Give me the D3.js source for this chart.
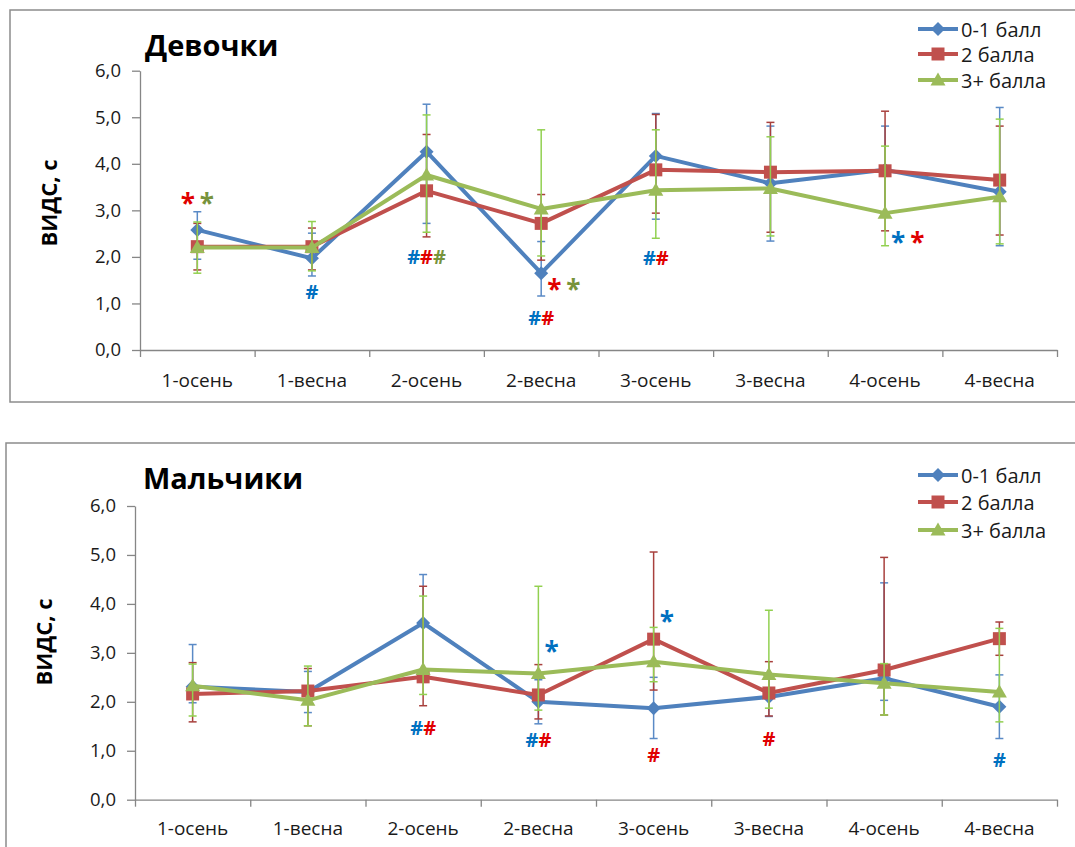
<!DOCTYPE html>
<html>
<head>
<meta charset="utf-8">
<script src="https://cdn.jsdelivr.net/npm/d3@7"></script>
<style>
  body { margin: 0; background: #fff; }
  svg { font-family: "Open Sans", sans-serif; }
</style>
</head>
<body>
<svg id="chart" width="1075" height="847"></svg>
<script>
const categories = ['1-осень', '1-весна', '2-осень', '2-весна', '3-осень', '3-весна', '4-осень', '4-весна'];
const seriesNames = ['0-1 балл', '2 балла', '3+ балла'];
const yTicks = [0, 1, 2, 3, 4, 5, 6];

// Девочки: mean, upper and lower end of the error bar
const girls01   = [2.58, 1.97, 4.26, 1.65, 4.17, 3.58, 3.87, 3.40];
const girls01Hi = [2.97, 2.51, 5.28, 2.33, 5.08, 4.81, 4.81, 5.21];
const girls01Lo = [1.95, 1.59, 2.72, 1.16, 2.81, 2.34, 2.93, 2.24];
const girls2    = [2.22, 2.22, 3.42, 2.72, 3.87, 3.82, 3.85, 3.65];
const girls2Hi  = [2.72, 2.62, 4.63, 3.34, 5.06, 4.89, 5.13, 4.81];
const girls2Lo  = [1.72, 1.72, 2.43, 1.93, 2.94, 2.53, 2.56, 2.47];
const girls3    = [2.20, 2.20, 3.76, 3.03, 3.43, 3.47, 2.94, 3.29];
const girls3Hi  = [2.75, 2.76, 5.05, 4.73, 4.73, 4.58, 4.38, 4.96];
const girls3Lo  = [1.65, 1.70, 2.53, 2.02, 2.40, 2.45, 2.24, 2.28];

// Мальчики
const boys01   = [2.31, 2.20, 3.61, 2.00, 1.87, 2.10, 2.48, 1.90];
const boys01Hi = [3.17, 2.62, 4.60, 2.45, 2.50, 2.50, 4.43, 2.55];
const boys01Lo = [1.98, 1.78, 2.60, 1.55, 1.25, 1.70, 2.03, 1.25];
const boys2    = [2.16, 2.22, 2.51, 2.14, 3.28, 2.18, 2.65, 3.29];
const boys2Hi  = [2.80, 2.68, 4.36, 2.76, 5.06, 2.82, 4.95, 3.63];
const boys2Lo  = [1.59, 1.51, 1.92, 1.65, 2.24, 1.71, 1.73, 2.95];
const boys3    = [2.33, 2.03, 2.66, 2.58, 2.82, 2.56, 2.38, 2.20];
const boys3Hi  = [2.77, 2.73, 4.16, 4.36, 3.52, 3.87, 2.78, 3.50];
const boys3Lo  = [1.71, 1.51, 2.15, 1.83, 2.41, 1.87, 1.73, 1.59];

// significance marks: category, level, glyphs with colour key, placed centred or right of the point
const girlsMarks = [
  { cat: '1-осень', v: 3.28, side: 'c', glyphs: [['*', 'r'], ['*', 'g']] },
  { cat: '1-весна', v: 1.25, side: 'c', glyphs: [['#', 'b']] },
  { cat: '2-осень', v: 2.00, side: 'c', glyphs: [['#', 'b'], ['#', 'r'], ['#', 'g']] },
  { cat: '2-весна', v: 1.43, side: 'r', glyphs: [['*', 'r'], ['*', 'g']] },
  { cat: '2-весна', v: 0.70, side: 'c', glyphs: [['#', 'b'], ['#', 'r']] },
  { cat: '3-осень', v: 1.97, side: 'c', glyphs: [['#', 'b'], ['#', 'r']] },
  { cat: '4-осень', v: 2.43, side: 'r', glyphs: [['*', 'b'], ['*', 'r']] }
];
const boysMarks = [
  { cat: '2-осень', v: 1.46, side: 'c', glyphs: [['#', 'b'], ['#', 'r']] },
  { cat: '2-весна', v: 1.22, side: 'c', glyphs: [['#', 'b'], ['#', 'r']] },
  { cat: '2-весна', v: 3.16, side: 'r', glyphs: [['*', 'b']] },
  { cat: '3-осень', v: 0.91, side: 'c', glyphs: [['#', 'r']] },
  { cat: '3-осень', v: 3.77, side: 'r', glyphs: [['*', 'b']] },
  { cat: '3-весна', v: 1.25, side: 'c', glyphs: [['#', 'r']] },
  { cat: '4-весна', v: 0.81, side: 'c', glyphs: [['#', 'b']] }
];

const lineColors = ['#4F81BD', '#C0504D', '#9BBB59'];
const barColors = ['#5A8AC6', '#A8403D', '#92D050'];
const markColors = { b: '#0070C0', r: '#E00000', g: '#77933C' };
const markerShapes = ['diamond', 'square', 'triangle'];

const svg = d3.select('#chart');

function markerPath(shape) {
    if (shape === 'diamond') return 'M0,-7L7,0L0,7L-7,0Z';
    if (shape === 'square') return 'M-6.5,-6.5H6.5V6.5H-6.5Z';
    return 'M0,-7.5L7.5,5.5L-7.5,5.5Z';
}

function drawChart(cfg) {
    const g = svg.append('g');

    g.append('rect')
        .attr('x', cfg.frame[0]).attr('y', cfg.frame[1])
        .attr('width', cfg.frame[2]).attr('height', cfg.frame[3])
        .attr('fill', 'none').attr('stroke', '#8c8c8c').attr('stroke-width', 1.5);

    const x = d3.scaleBand().domain(categories).range([cfg.left, cfg.right]);
    const y = d3.scaleLinear().domain([0, 6]).range([cfg.bottom, cfg.top]);
    const cx = d => x(d) + x.bandwidth() / 2;

    // y axis
    const yAxis = g.append('g')
        .attr('transform', `translate(${cfg.left},0)`)
        .call(d3.axisLeft(y).tickValues(yTicks).tickSize(8).tickSizeOuter(0).tickPadding(11)
            .tickFormat(d => d3.format('.1f')(d).replace('.', ',')));

    // x axis: ticks sit between categories
    const xb = d3.scaleLinear().domain([0, categories.length]).range([cfg.left, cfg.right]);
    const xAxis = g.append('g')
        .attr('transform', `translate(0,${cfg.bottom})`)
        .call(d3.axisBottom(xb).tickValues(d3.range(0, categories.length + 1)).tickSize(7).tickSizeOuter(0).tickFormat(''));

    [yAxis, xAxis].forEach(a => {
        a.selectAll('path, line').attr('stroke', '#868686').attr('stroke-width', 1.3);
        a.selectAll('text').attr('font-size', 18.5).attr('fill', '#1a1a1a').attr('font-family', '"Open Sans", sans-serif');
    });

    g.append('g').selectAll('text')
        .data(categories)
        .join('text')
        .attr('x', cx)
        .attr('y', cfg.labelY)
        .attr('text-anchor', 'middle')
        .attr('font-size', 19)
        .attr('fill', '#1a1a1a')
        .text(d => d);

    // title and y title
    g.append('text')
        .attr('x', cfg.title[0]).attr('y', cfg.title[1])
        .attr('font-size', 29).attr('font-weight', 700).attr('fill', '#000')
        .text(cfg.name);

    g.append('text')
        .attr('transform', `translate(${cfg.yTitle[0]},${cfg.yTitle[1]}) rotate(-90)`)
        .attr('text-anchor', 'middle').attr('dominant-baseline', 'central')
        .attr('font-size', 22).attr('font-weight', 700).attr('fill', '#000')
        .text('ВИДС, с');

    // series: error bars, line, markers
    cfg.series.forEach((s, k) => {
        const pts = categories.map((c, i) => ({ c, v: s.mean[i], hi: s.hi[i], lo: s.lo[i] }));
        const eb = g.append('g').attr('stroke', barColors[k]).attr('stroke-width', 1.5);
        eb.selectAll('.bar').data(pts).join('line')
            .attr('x1', d => cx(d.c)).attr('x2', d => cx(d.c))
            .attr('y1', d => y(d.hi)).attr('y2', d => y(d.lo));
        eb.selectAll('.capHi').data(pts).join('line')
            .attr('x1', d => cx(d.c) - 4).attr('x2', d => cx(d.c) + 4)
            .attr('y1', d => y(d.hi)).attr('y2', d => y(d.hi));
        eb.selectAll('.capLo').data(pts).join('line')
            .attr('x1', d => cx(d.c) - 4).attr('x2', d => cx(d.c) + 4)
            .attr('y1', d => y(d.lo)).attr('y2', d => y(d.lo));

        g.append('path')
            .datum(pts)
            .attr('fill', 'none')
            .attr('stroke', lineColors[k])
            .attr('stroke-width', 4)
            .attr('stroke-linejoin', 'round')
            .attr('d', d3.line().x(d => cx(d.c)).y(d => y(d.v)));

        g.append('g').selectAll('path')
            .data(pts)
            .join('path')
            .attr('transform', d => `translate(${cx(d.c)},${y(d.v)})`)
            .attr('d', markerPath(markerShapes[k]))
            .attr('fill', lineColors[k]);
    });

    // significance marks
    cfg.marks.forEach(m => {
        const star = m.glyphs[0][0] === '*';
        const fs = star ? 26 : 20;
        const t = g.append('text')
            .attr('x', m.side === 'r' ? cx(m.cat) + 6 : cx(m.cat))
            .attr('y', y(m.v) + (star ? 0.6 : 0.36) * fs)
            .attr('text-anchor', m.side === 'r' ? 'start' : 'middle')
            .attr('font-size', fs)
            .attr('font-weight', 700);
        m.glyphs.forEach((gl, j) => {
            t.append('tspan')
                .attr('dx', j > 0 && star ? 5 : 0)
                .attr('fill', markColors[gl[1]])
                .text(gl[0]);
        });
    });

    // legend
    const lg = g.append('g');
    seriesNames.forEach((name, k) => {
        const ly = cfg.legendY[k];
        lg.append('line')
            .attr('x1', cfg.legendX).attr('x2', cfg.legendX + 40)
            .attr('y1', ly).attr('y2', ly)
            .attr('stroke', lineColors[k]).attr('stroke-width', 4);
        lg.append('path')
            .attr('transform', `translate(${cfg.legendX + 20},${ly})`)
            .attr('d', markerPath(markerShapes[k]))
            .attr('fill', lineColors[k]);
        lg.append('text')
            .attr('x', cfg.legendX + 43).attr('y', ly)
            .attr('dominant-baseline', 'central')
            .attr('font-size', 20).attr('fill', '#1a1a1a')
            .text(name);
    });
}

drawChart({
    name: 'Девочки',
    frame: [10, 10, 1080, 392],
    left: 140, right: 1057, top: 70.7, bottom: 350,
    labelY: 387,
    title: [145, 56],
    yTitle: [48, 203],
    legendX: 918, legendY: [29, 54, 80],
    series: [
        { mean: girls01, hi: girls01Hi, lo: girls01Lo },
        { mean: girls2, hi: girls2Hi, lo: girls2Lo },
        { mean: girls3, hi: girls3Hi, lo: girls3Lo }
    ],
    marks: girlsMarks
});

drawChart({
    name: 'Мальчики',
    frame: [6, 443, 1090, 420],
    left: 135, right: 1057, top: 506, bottom: 799.7,
    labelY: 835,
    title: [143, 489],
    yTitle: [43, 642],
    legendX: 918, legendY: [475, 502, 530],
    series: [
        { mean: boys01, hi: boys01Hi, lo: boys01Lo },
        { mean: boys2, hi: boys2Hi, lo: boys2Lo },
        { mean: boys3, hi: boys3Hi, lo: boys3Lo }
    ],
    marks: boysMarks
});
</script>
</body>
</html>
